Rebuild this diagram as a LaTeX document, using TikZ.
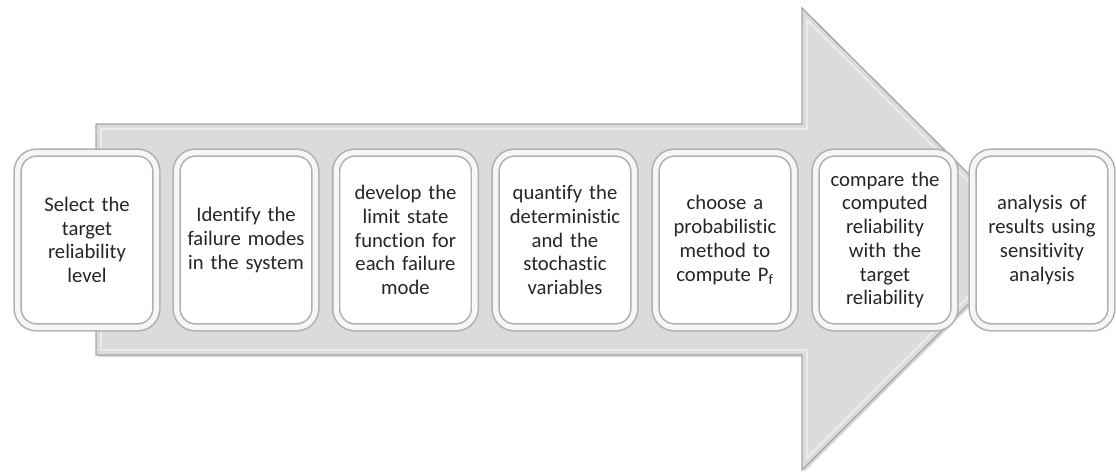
\documentclass[tikz,border=0pt]{standalone}
\usepackage{fontspec}
\setmainfont{Carlito}[Ligatures={NoCommon,NoContextual}]
\usetikzlibrary{shadows}
\begin{document}
\begin{tikzpicture}[x=0.75pt,y=-0.75pt,
  bigarrow/.style={fill=gray!28,draw=gray!70,line width=1pt},
  arrowrim/.style={draw=white!85!gray,line width=1.4pt},
  stepcard/.style={rounded corners=14pt,minimum width=104pt,minimum height=131pt,
    inner sep=0pt,fill=white,draw=gray!62,line width=1.2pt,
    double=gray!7,double distance=4pt,
    drop shadow={shadow xshift=1.5pt,shadow yshift=-1.5pt,opacity=0.25,fill=gray},
    text width=104pt,align=center,font=\fontsize{15.5}{17.8}\selectfont,text=black!85}]
\useasboundingbox (0,0) rectangle (1116,472);
% large background arrow
\draw[bigarrow,drop shadow={shadow xshift=1.5pt,shadow yshift=-1.5pt,opacity=0.3,fill=gray}]
  (96,124) -- (802,124) -- (802,8) -- (1034,239) -- (802,470) -- (802,355) -- (96,355) -- cycle;
\draw[arrowrim] (101,129) -- (807,129) -- (807,20) -- (1026,239) -- (807,458) -- (807,350) -- (101,350) -- cycle;
% process steps
\node[stepcard] (s1) at (87,240) {Select the\\target\\reliability\\level};
\node[stepcard] (s2) at (246,240) {Identify the\\failure modes\\in the system};
\node[stepcard] (s3) at (405.5,240) {develop the\\limit state\\function for\\each failure\\mode};
\node[stepcard] (s4) at (565,240) {quantify the\\deterministic\\and the\\stochastic\\variables};
\node[stepcard] (s5) at (725,240) {choose a\\probabilistic\\method to\\compute P\textsubscript{f}};
\node[stepcard] (s6) at (885,240) {compare the\\computed\\reliability\\with the\\target\\reliability};
\node[stepcard] (s7) at (1042,240) {analysis of\\results using\\sensitivity\\analysis};
\end{tikzpicture}
\end{document}
